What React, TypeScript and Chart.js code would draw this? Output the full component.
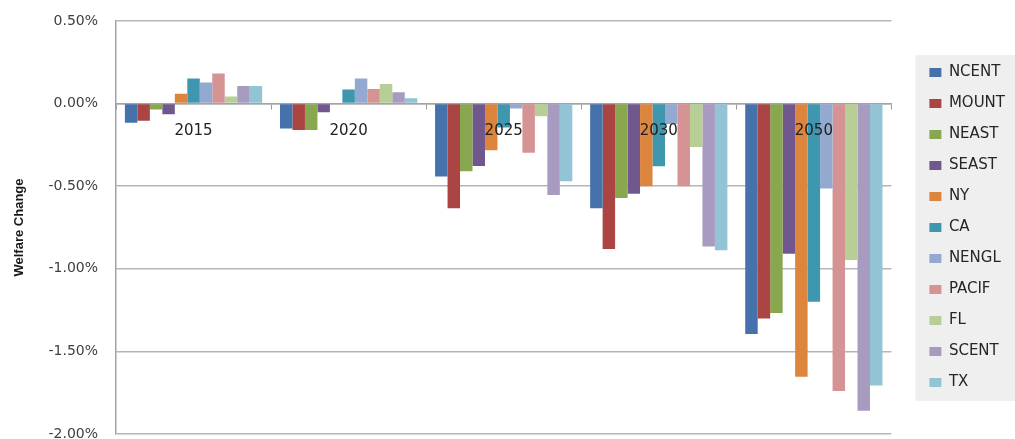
import React, { useEffect, useRef } from 'react';
import { Chart, registerables } from 'chart.js';

Chart.register(...registerables);

// Projection years on the category axis
const years = ['2015', '2020', '2025', '2030', '2050'];

// Welfare change by region, in percent
const NCENT = [-0.116, -0.150, -0.442, -0.633, -1.394];
const MOUNT = [-0.104, -0.160, -0.633, -0.880, -1.301];
const NEAST = [-0.035, -0.160, -0.410, -0.571, -1.267];
const SEAST = [-0.065, -0.053, -0.377, -0.545, -0.909];
const NY = [0.059, 0.005, -0.283, -0.500, -1.653];
const CA = [0.152, 0.086, -0.145, -0.379, -1.200];
const NENGL = [0.128, 0.152, -0.030, -0.124, -0.514];
const PACIF = [0.182, 0.089, -0.297, -0.500, -1.740];
const FL = [0.043, 0.118, -0.077, -0.263, -0.947];
const SCENT = [0.106, 0.068, -0.553, -0.865, -1.859];
const TX = [0.106, 0.033, -0.470, -0.887, -1.706];

const regionNames = ['NCENT', 'MOUNT', 'NEAST', 'SEAST', 'NY', 'CA', 'NENGL', 'PACIF', 'FL', 'SCENT', 'TX'];
const regionValues = [NCENT, MOUNT, NEAST, SEAST, NY, CA, NENGL, PACIF, FL, SCENT, TX];
const regionColors = [
  '#4572AA', '#AA4544', '#88A74E', '#70588F', '#DE853D', '#3F97AF',
  '#93A9D0', '#D59493', '#B7CF96', '#A89BC0', '#92C4D6',
];

// Value axis range and step, in percent
const yMin = -2;
const yMax = 0.5;
const yStep = 0.5;

// Light grey panel behind the legend entries
const legendPanel = {
  id: 'legendPanel',
  beforeDraw(chart: any) {
    const lg = chart.legend;
    if (!lg || !lg.legendHitBoxes || !lg.legendHitBoxes.length) return;
    const boxes = lg.legendHitBoxes;
    const first = boxes[0];
    const last = boxes[boxes.length - 1];
    const { ctx } = chart;
    const x = first.left - 14;
    const top = first.top - 10;
    const bottom = last.top + last.height + 11;
    ctx.save();
    ctx.fillStyle = '#efefef';
    ctx.fillRect(x, top, chart.width - x, bottom - top);
    ctx.restore();
  },
};

export default function App() {
  const canvasRef = useRef<HTMLCanvasElement | null>(null);

  useEffect(() => {
    if (!canvasRef.current) return;
    const chart = new Chart(canvasRef.current, {
      type: 'bar',
      data: {
        labels: years,
        datasets: regionNames.map((name, i) => ({
          label: name,
          data: regionValues[i],
          backgroundColor: regionColors[i],
          borderWidth: 0,
          xAxisID: 'x',
          yAxisID: 'y',
        })),
      },
      plugins: [legendPanel],
      options: {
        animation: false,
        responsive: true,
        maintainAspectRatio: false,
        layout: { padding: { top: 21, bottom: 5, left: 0, right: 0 } },
        datasets: { bar: { categoryPercentage: 0.885, barPercentage: 1 } },
        plugins: {
          tooltip: { enabled: false },
          legend: {
            position: 'right',
            align: 'center',
            labels: {
              boxWidth: 12,
              boxHeight: 9,
              padding: 16,
              color: '#262626',
              font: { family: 'DejaVu Sans', size: 15 },
            },
          },
        },
        scales: {
          x: {
            type: 'category',
            position: { y: 0 } as any,
            offset: true,
            grid: {
              offset: true,
              drawOnChartArea: false,
              drawTicks: true,
              tickLength: 5,
              color: '#9a9a9a',
            },
            border: { display: true, color: '#a3a3a3', width: 1.5 },
            ticks: {
              z: 1,
              padding: 14,
              color: '#222222',
              font: { family: 'DejaVu Sans', size: 15 },
            },
          },
          y: {
            type: 'linear',
            position: 'left',
            min: yMin,
            max: yMax,
            ticks: {
              stepSize: yStep,
              padding: 18,
              color: '#404040',
              font: { family: 'DejaVu Sans', size: 14 },
              callback: (v: any) => Number(v).toFixed(2) + '%',
            },
            grid: { color: '#b5b5b5', lineWidth: 1.5, drawTicks: false },
            border: { display: true, color: '#a3a3a3', width: 1.5 },
            title: {
              display: true,
              text: 'Welfare Change',
              color: '#1a1a1a',
              font: { family: 'Liberation Sans', size: 13, weight: 'bold' },
              padding: { top: 12, bottom: 0 },
            },
            afterFit: (s: any) => {
              s.width = 116;
              s.paddingTop = 0;
              s.paddingBottom = 0;
            },
          },
          yR: {
            type: 'linear',
            axis: 'y',
            position: 'right',
            display: true,
            grid: { display: false },
            ticks: { display: false },
            border: { display: false },
            afterFit: (s: any) => {
              s.width = 22;
            },
          },
        } as any,
      },
    });
    return () => chart.destroy();
  }, []);

  return (
    <div style={{ position: 'fixed', left: 0, top: 0, width: 1015, height: 439, background: '#ffffff' }}>
      <canvas ref={canvasRef} />
    </div>
  );
}
